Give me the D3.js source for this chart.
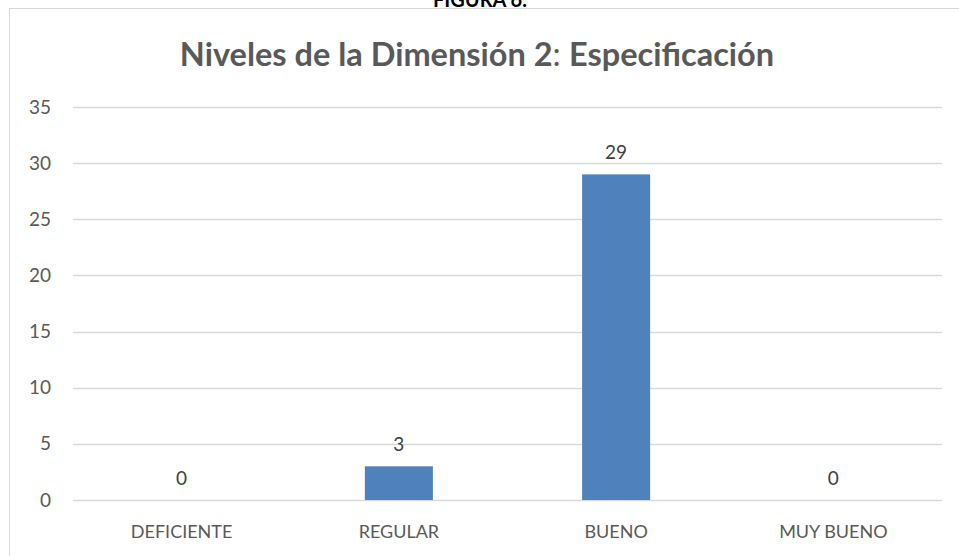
<!DOCTYPE html>
<html>
<head>
<meta charset="utf-8">
<script src="https://cdn.jsdelivr.net/npm/d3@7"></script>
<style>
  body { margin: 0; background: #fff; }
  svg { display: block; font-family: Lato, "Open Sans", sans-serif; }
</style>
</head>
<body>
<svg class="svg-main" width="959" height="556"></svg>
<script>
const categories = ["DEFICIENTE", "REGULAR", "BUENO", "MUY BUENO"];
const values = [0, 3, 29, 0];
const yTicks = [0, 5, 10, 15, 20, 25, 30, 35];

const svg = d3.select('.svg-main');
const width = Number(svg.attr("width"));
const height = Number(svg.attr("height"));

const margin = {top: 107, right: 17, bottom: 56, left: 73};

// outer frame
svg.append("rect")
  .attr("x", 9.5).attr("y", 8.5)
  .attr("width", width + 10).attr("height", height + 10)
  .attr("fill", "none").attr("stroke", "#d9d9d9");

// figure caption, cut at the top like the original
svg.append("text")
  .attr("x", 480).attr("y", 7)
  .attr("text-anchor", "middle")
  .attr("font-weight", "bold").attr("font-size", 20)
  .attr("fill", "#000")
  .text("FIGURA 6.");

const title = svg.append("text")
  .attr("x", 477).attr("y", 66)
  .attr("text-anchor", "middle")
  .attr("font-size", 32.5).attr("fill", "#595959");
title.append("tspan").attr("font-weight", "bold").text("Niveles de la Dimensión 2");
title.append("tspan").text(": ");
title.append("tspan").attr("font-weight", "bold").text("Especificación");

const x = d3.scaleBand()
  .domain(categories)
  .range([margin.left, width - margin.right])
  .padding(0);

const y = d3.scaleLinear()
  .domain([0, 35])
  .range([height - margin.bottom, margin.top]);

// gridlines
svg.append("g")
  .attr("class", "grid")
  .selectAll("line")
  .data(yTicks)
  .enter().append("line")
    .attr("x1", margin.left)
    .attr("x2", width - margin.right)
    .attr("y1", (d) => Math.round(y(d)) + 0.5)
    .attr("y2", (d) => Math.round(y(d)) + 0.5)
    .attr("stroke", "#d9d9d9")
    .attr("stroke-width", 1.5);

// y axis labels
const yAxis = svg.append("g")
  .attr("transform", `translate(${margin.left - 22},0)`)
  .call(d3.axisLeft(y).tickValues(yTicks).tickSize(0).tickPadding(0));
yAxis.select(".domain").remove();
yAxis.selectAll("text")
  .attr("font-family", "Lato, 'Open Sans', sans-serif")
  .attr("font-size", 19).attr("fill", "#595959");

// x axis labels
const xAxis = svg.append("g")
  .attr("transform", `translate(0,${height - margin.bottom})`)
  .call(d3.axisBottom(x).tickSize(0).tickPadding(25));
xAxis.select(".domain").remove();
xAxis.selectAll("text")
  .attr("font-family", "Lato, 'Open Sans', sans-serif")
  .attr("font-size", 18).attr("fill", "#595959");

const barW = x.bandwidth() * 0.313;

svg.append("g")
  .attr("class", "bars")
  .selectAll("rect")
  .data(values)
  .enter().append("rect")
    .attr("x", (d, i) => x(categories[i]) + x.bandwidth() / 2 - barW / 2)
    .attr("y", (d) => y(d))
    .attr("width", barW)
    .attr("height", (d) => y(0) - y(d))
    .attr("fill", "#4f81bd");

svg.append("g")
  .attr("class", "labels")
  .selectAll("text")
  .data(values)
  .enter().append("text")
    .attr("x", (d, i) => x(categories[i]) + x.bandwidth() / 2)
    .attr("y", (d) => y(d) - 15)
    .attr("text-anchor", "middle")
    .attr("font-size", 19).attr("fill", "#404040")
    .text((d) => d);
</script>
</body>
</html>
